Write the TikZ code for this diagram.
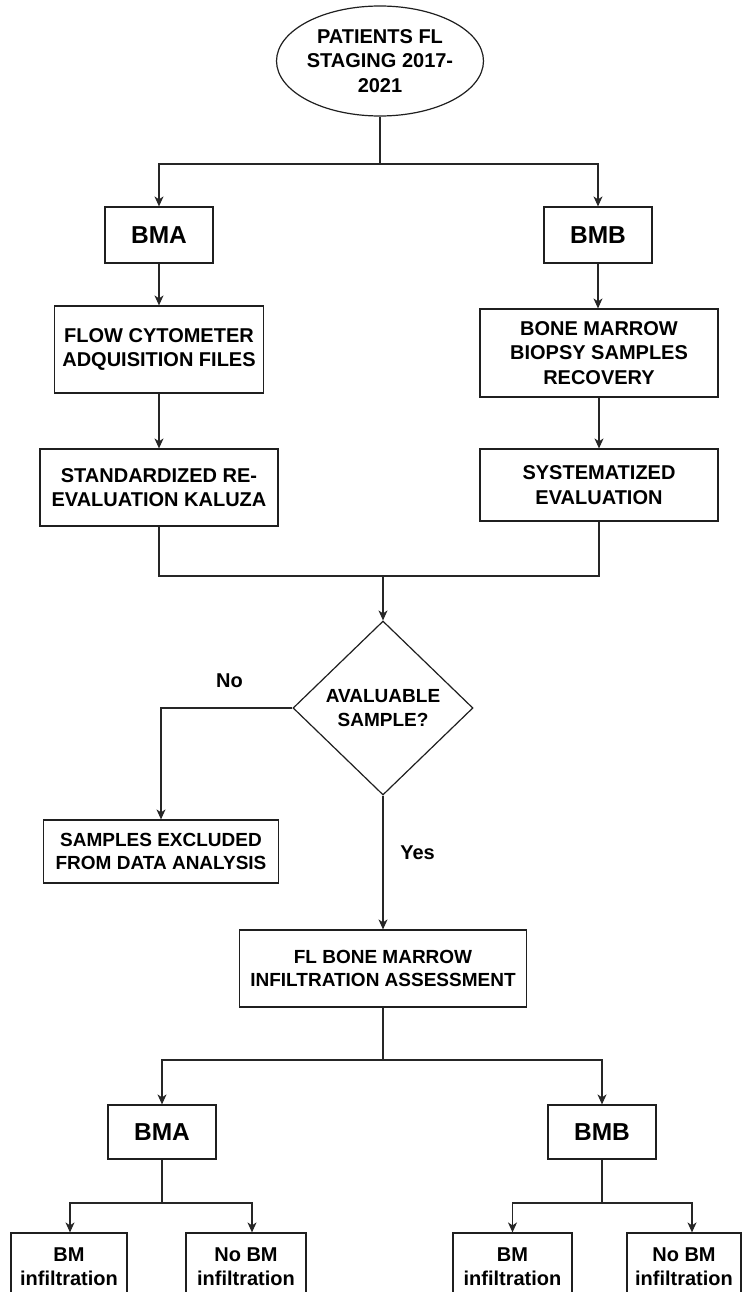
\documentclass[tikz,border=0pt]{standalone}
\usepackage{fontspec}
\setmainfont{Liberation Sans}
\usetikzlibrary{shapes.geometric,arrows.meta}
\newcommand\txtbig{\fontsize{24.5}{28}\selectfont\bfseries}
\newcommand\txtmid{\fontsize{20}{24.5}\selectfont\bfseries}
\newcommand\txtsml{\fontsize{19}{23.5}\selectfont\bfseries}
\tikzset{
  box/.style={draw=black!88, line width=1.2pt, rectangle, inner sep=0pt, align=center, font=\txtmid},
  lnk/.style={draw=black!85, line width=1.2pt},
  arr/.style={lnk, -{Stealth[length=10pt,width=9pt,inset=3pt]}},
  lbl/.style={font=\txtmid, inner sep=0pt}
}
\begin{document}
\begin{tikzpicture}[x=1pt,y=-1pt]
\clip (0,0) rectangle (742,1292);
\fill[white] (0,0) rectangle (742,1292);

% top of the chart
\node[box, ellipse, minimum width=166, minimum height=110, font=\txtmid] (start) at (380,61)
  {PATIENTS FL\\STAGING 2017-\\2021};
\node[box, minimum width=108, minimum height=56, font=\txtbig] (bmaA) at (159,235) {BMA};
\node[box, minimum width=108, minimum height=56, font=\txtbig] (bmbA) at (598,235) {BMB};

% aspirate branch
\node[box, minimum width=209, minimum height=87] (flow) at (159,349.5)
  {FLOW CYTOMETER\\ADQUISITION FILES};
\node[box, minimum width=238, minimum height=77] (std) at (159,487.5)
  {STANDARDIZED RE-\\EVALUATION KALUZA};

% biopsy branch
\node[box, minimum width=238, minimum height=88] (bone) at (599,353)
  {BONE MARROW\\BIOPSY SAMPLES\\RECOVERY};
\node[box, minimum width=238, minimum height=72] (sys) at (599,485)
  {SYSTEMATIZED\\EVALUATION};

% decision
\node[box, diamond, minimum width=180, minimum height=174, font=\txtsml] (dec) at (383,708)
  {AVALUABLE\\SAMPLE?};
\node[box, minimum width=235, minimum height=63, font=\txtsml] (excl) at (161,851.5)
  {SAMPLES EXCLUDED\\FROM DATA ANALYSIS};
\node[box, minimum width=287, minimum height=77, font=\txtsml] (fl) at (383,968.5)
  {FL BONE MARROW\\INFILTRATION ASSESSMENT};

% assessment results
\node[box, minimum width=108, minimum height=54, font=\txtbig] (bmaB) at (162,1132) {BMA};
\node[box, minimum width=108, minimum height=54, font=\txtbig] (bmbB) at (602,1132) {BMB};
\node[box, minimum width=116, minimum height=67] (bmA) at (69,1266.5) {BM\\infiltration};
\node[box, minimum width=120, minimum height=67] (nobmA) at (246,1266.5) {No BM\\infiltration};
\node[box, minimum width=119, minimum height=67] (bmB) at (512.5,1266.5) {BM\\infiltration};
\node[box, minimum width=114, minimum height=67] (nobmB) at (684,1266.5) {No BM\\infiltration};

% labels
\node[lbl] (no) at (229.5,681) {No};
\node[lbl] (yes) at (417.5,853) {Yes};

% junctions
\coordinate (j1) at (380,164);
\coordinate (j2) at (383,576);
\coordinate (j3) at (383,1060);
\coordinate (j4) at (162,1203);
\coordinate (j5) at (602,1203);

% connectors
\draw[lnk] (start.south) -- (j1);
\draw[arr] (j1) -| (bmaA.north);
\draw[arr] (j1) -| (bmbA.north);
\draw[arr] (bmaA.south) -- (flow.north);
\draw[arr] (flow.south) -- (std.north);
\draw[arr] (bmbA.south) -- (bmbA.south |- bone.north);
\draw[arr] (bone.south) -- (sys.north);
\draw[lnk] (std.south) |- (j2) -| (sys.south);
\draw[arr] (j2) -- (dec.north);
\draw[arr] (dec.west) -| (excl.north);
\draw[arr] (dec.south) -- (fl.north);
\draw[lnk] (fl.south) -- (j3);
\draw[arr] (j3) -| (bmaB.north);
\draw[arr] (j3) -| (bmbB.north);
\draw[lnk] (bmaB.south) -- (j4);
\draw[arr] (j4) -| ([xshift=1pt]bmA.north);
\draw[arr] (j4) -| ([xshift=6pt]nobmA.north);
\draw[lnk] (bmbB.south) -- (j5);
\draw[arr] (j5) -| (bmB.north);
\draw[arr] (j5) -| ([xshift=8pt]nobmB.north);
\end{tikzpicture}
\end{document}
